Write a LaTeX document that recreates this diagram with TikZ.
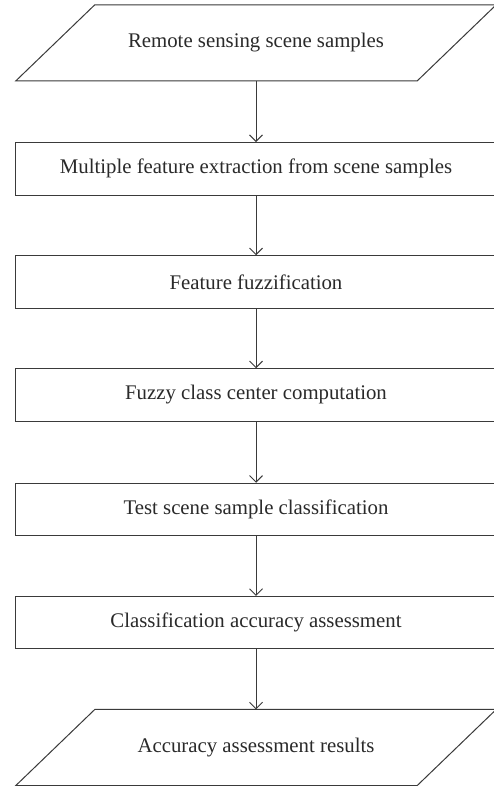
\documentclass[tikz,border=0pt]{standalone}
\usepackage{fontspec}
\setmainfont{Liberation Serif}
\usetikzlibrary{arrows.meta,calc}
\definecolor{linec}{HTML}{3A3A3A}
\definecolor{txtc}{HTML}{2A2A2A}
\begin{document}
\begin{tikzpicture}[x=1pt,y=1pt,
  lbl/.style={text=txtc, font=\fontsize{20.8}{24}\selectfont, inner sep=0pt},
  box/.style={lbl, draw=linec, line width=1pt, minimum width=482pt, minimum height=52.5pt},
  iobox/.style={lbl, minimum width=480pt, minimum height=75.7pt},
  para/.style={draw=linec, line width=1pt, line join=miter},
  arr/.style={draw=linec, line width=1pt, -{Straight Barb[length=6.5pt,width=13pt]}}]
\useasboundingbox (0,0) rectangle (494,-786);
\fill[white] (0,0) rectangle (494,-786);
\node[iobox] (in) at (256,-42.85) {Remote sensing scene samples};
\draw[para] (in.south west) -- ($(in.south east)+(-79,0)$) -- (in.north east) -- ($(in.north west)+(79,0)$) -- cycle;
\node[box] (b1) at (256,-168.85) {Multiple feature extraction from scene samples};
\node[box] (b2) at (256,-282) {Feature fuzzification};
\node[box] (b3) at (256,-395) {Fuzzy class center computation};
\node[box] (b4) at (256,-509.5) {Test scene sample classification};
\node[box] (b5) at (256,-622.7) {Classification accuracy assessment};
\node[iobox] (out) at (256,-747.5) {Accuracy assessment results};
\draw[para] (out.south west) -- ($(out.south east)+(-79,0)$) -- (out.north east) -- ($(out.north west)+(79,0)$) -- cycle;
\draw[arr] (in.south) -- (b1.north);
\draw[arr] (b1.south) -- (b2.north);
\draw[arr] (b2.south) -- (b3.north);
\draw[arr] (b3.south) -- (b4.north);
\draw[arr] (b4.south) -- (b5.north);
\draw[arr] (b5.south) -- (out.north);
\end{tikzpicture}
\end{document}
